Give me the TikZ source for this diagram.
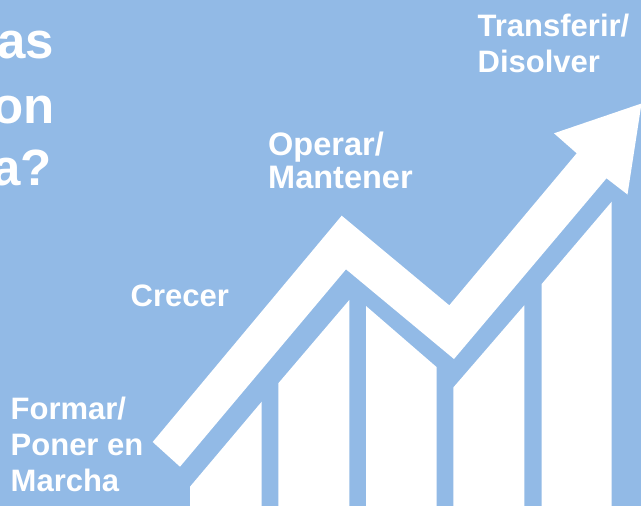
\documentclass[tikz,border=0pt]{standalone}
\usepackage{fontspec}
\setmainfont{Liberation Sans}
\definecolor{skyblue}{RGB}{146,186,230}

\begin{document}
\begin{tikzpicture}[x=1pt,y=-1pt,
             stage/.style={text=white,inner sep=0pt,anchor=base west,align=left,
                           font=\bfseries\fontsize{31}{35.7}\selectfont},
             title/.style={text=white,inner sep=0pt,anchor=base east,
                           font=\bfseries\fontsize{51}{60}\selectfont},
             bar/.style={fill=white,draw=none}]
             \useasboundingbox (0,0) rectangle (641,506);
             \clip (0,0) rectangle (641,506);
             \fill[skyblue] (0,0) rectangle (641,506);

             % heading cut at the left edge
             \node[title] (ttl1) at (54.5,58.3) {as};
             \node[title] (ttl2) at (55,123.3) {on};
             \node[title] (ttl3) at (52,185) {a?};

             % bars
             \fill[bar] (190,506) -- (190,486.7) -- (261.7,401.7) -- (261.7,506) -- cycle;
             \fill[bar] (278.3,506) -- (278.3,383.3) -- (349.3,300) -- (349.3,506) -- cycle;
             \fill[bar] (366,506) -- (366,306) -- (436.5,367) -- (436.5,506) -- cycle;
             \fill[bar] (453.3,506) -- (453.3,387.5) -- (524.3,305.3) -- (524.3,506) -- cycle;
             \fill[bar] (541.7,506) -- (541.7,284) -- (611.7,201.7) -- (611.7,506) -- cycle;

             % arrow
             \fill[white] (152.7,442) -- (341.7,215.7) -- (449.3,305.3) -- (576.7,153.3)
                 -- (554,133.3) -- (641.5,103.5) -- (627.5,194.5) -- (606.5,178.3)
                 -- (454,359) -- (346,269.3) -- (180,466.7) -- cycle;

             % stages (base = last line)
             \node[stage] (form) at (10.5,491) {Formar/\\Poner en\\Marcha};
             \node[stage] (grow) at (130.5,306) {Crecer};
             \node[stage,font=\bfseries\fontsize{32.5}{33}\selectfont] (oper) at (268,188.3) {Operar/\\Mantener};
             \node[stage] (trans) at (477.5,72.7) {Transferir/\\Disolver};
\end{tikzpicture}
\end{document}
